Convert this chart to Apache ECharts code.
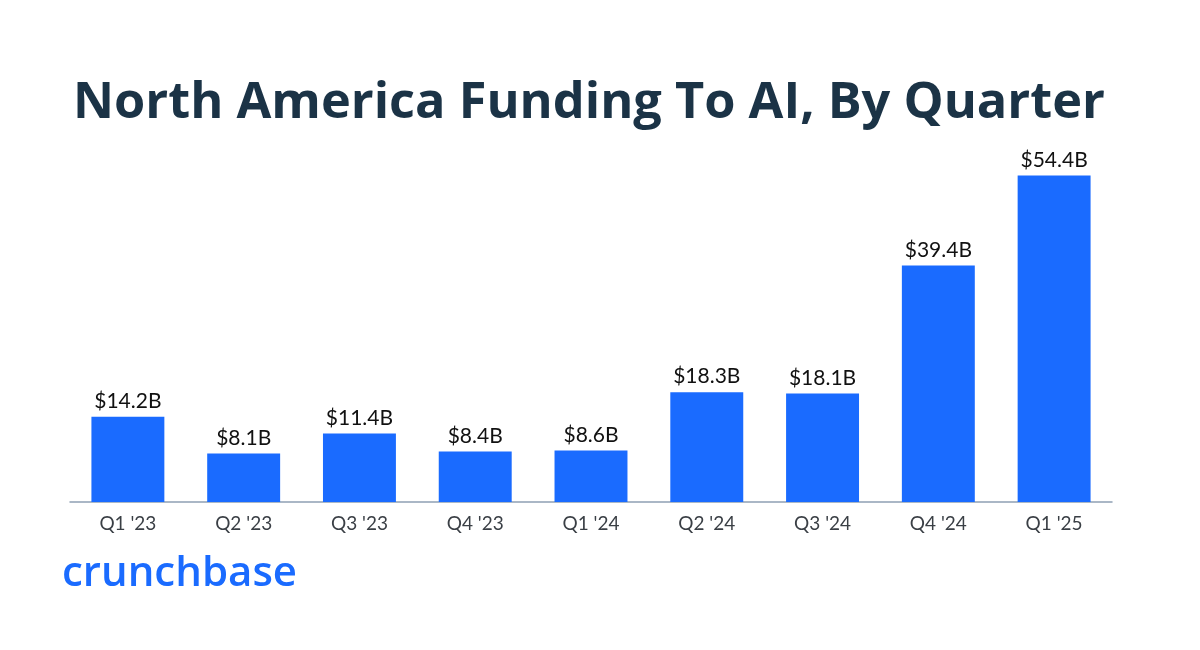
<!DOCTYPE html>
<html><head><meta charset="utf-8">
<script src="https://cdn.jsdelivr.net/npm/echarts@6/dist/echarts.min.js"></script>
<style>html,body{margin:0;padding:0;background:#fff}#c{width:1200px;height:650px}</style>
</head><body><div id="c"></div>
<script>
const categories = ["Q1 '23","Q2 '23","Q3 '23","Q4 '23","Q1 '24","Q2 '24","Q3 '24","Q4 '24","Q1 '25"];
const fundingValues = [14.2, 8.1, 11.4, 8.4, 8.6, 18.3, 18.1, 39.4, 54.4];
const titleText = "North America Funding To AI, By Quarter";
const brandText = "crunchbase";

const chart = echarts.init(document.getElementById('c'));
chart.setOption({
  backgroundColor: '#ffffff',
  animation: false,
  title: {
    text: titleText,
    left: 68,
    top: 73,
    textStyle: { fontFamily: 'Open Sans', fontWeight: 'bold', fontSize: 50.5, color: '#1b3346' }
  },
  graphic: [{
    type: 'text', left: 62, top: 553,
    style: { text: brandText, fontFamily: 'Open Sans', fontWeight: 600, fontSize: 42, fill: '#1a6bff' }
  }],
  grid: { left: 70, right: 88, top: 142, bottom: 148, containLabel: false },
  xAxis: {
    type: 'category', data: categories,
    axisLine: { lineStyle: { color: '#8ea0b4', width: 1.5 } },
    axisTick: { show: false },
    axisLabel: { color: '#3a3f45', fontSize: 19, fontFamily: 'Lato', margin: 12 }
  },
  yAxis: { type: 'value', min: 0, max: 60, show: false, splitLine: { show: false } },
  series: [{
    type: 'bar', data: fundingValues, barWidth: '63%',
    itemStyle: { color: '#1a6bff' },
    label: { show: true, position: 'top', distance: 5, color: '#111', fontSize: 21, fontFamily: 'Lato',
      formatter: p => '$' + p.value.toFixed(1) + 'B' }
  }]
});
</script></body></html>
